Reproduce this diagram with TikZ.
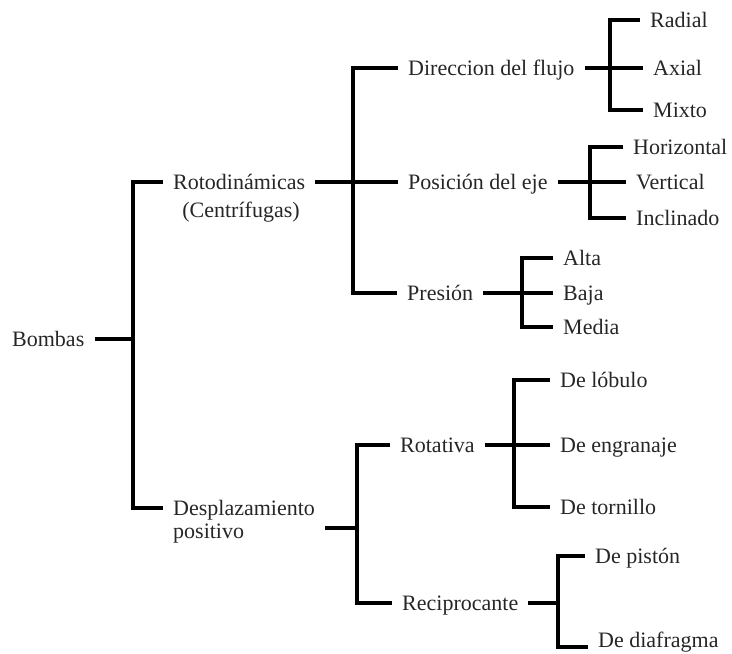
\documentclass[tikz,border=0pt]{standalone}
\usepackage{fontspec}
\setmainfont{Liberation Serif}
\begin{document}
\begin{tikzpicture}[x=1pt,y=-1pt,
  lbl/.style={anchor=west,inner xsep=10pt,inner ysep=0pt,text=black!85,
    font=\fontsize{22}{26}\selectfont,text height=16pt,text depth=2pt},
  br/.style={line width=3.2pt,black}]
\useasboundingbox (0,0) rectangle (732,654);
% level 0
\node[lbl] (bombas) at (2,339) {Bombas};
% level 1
\node[lbl] (roto) at (163,182) {Rotodinámicas};
\node[lbl,anchor=center] (centri) at (241,210) {(Centrífugas)};
\node[lbl] (desp) at (163,508) {Desplazamiento};
\node[lbl] (despb) at (163,531) {positivo};
% level 2
\node[lbl] (dir) at (398,68) {Direccion del flujo};
\node[lbl] (pos) at (398,182) {Posición del eje};
\node[lbl] (pres) at (397,293) {Presión};
\node[lbl] (rot) at (390,445) {Rotativa};
\node[lbl] (recip) at (392,603) {Reciprocante};
% level 3
\node[lbl] (radial) at (640,20) {Radial};
\node[lbl] (axial) at (643,68) {Axial};
\node[lbl] (mixto) at (643,110) {Mixto};
\node[lbl] (horiz) at (623,147) {Horizontal};
\node[lbl] (vert) at (626,182) {Vertical};
\node[lbl] (incl) at (626,218) {Inclinado};
\node[lbl] (alta) at (553,258) {Alta};
\node[lbl] (baja) at (553,293) {Baja};
\node[lbl] (media) at (553,327) {Media};
\node[lbl] (lob) at (550,380) {De lóbulo};
\node[lbl] (engr) at (550,445) {De engranaje};
\node[lbl] (torn) at (550,507) {De tornillo};
\node[lbl] (pist) at (585,556) {De pistón};
\node[lbl,text height=9pt,text depth=9pt] (diaf) at (588,647) {De diafragma};
% junctions
\coordinate (jA) at (133,339);
\coordinate (jB) at (353,182);
\coordinate (jC1) at (610,68);
\coordinate (jC2) at (590,182);
\coordinate (jC3) at (522,293);
\coordinate (jD) at (357,528);
\coordinate (jE) at (514,445);
\coordinate (jF) at (558,603);
% connectors
\draw[br] (bombas.east) -- (jA);
\draw[br] (roto.west) -| (jA) |- (desp.west);
\draw[br] (roto.east) -- (pos.west);
\draw[br] (dir.west) -| (jB) |- (pres.west);
\draw[br] (dir.east) -- (axial.west);
\draw[br] (radial.west) -| (jC1) |- (mixto.west);
\draw[br] (pos.east) -- (vert.west);
\draw[br] (horiz.west) -| (jC2) |- (incl.west);
\draw[br] (pres.east) -- (baja.west);
\draw[br] (alta.west) -| (jC3) |- (media.west);
\draw[br] (jD -| desp.east) -- (jD);
\draw[br] (rot.west) -| (jD) |- (recip.west);
\draw[br] (rot.east) -- (engr.west);
\draw[br] (lob.west) -| (jE) |- (torn.west);
\draw[br] (recip.east) -- (jF);
\draw[br] (pist.west) -| (jF) |- (diaf.west);
\end{tikzpicture}
\end{document}
